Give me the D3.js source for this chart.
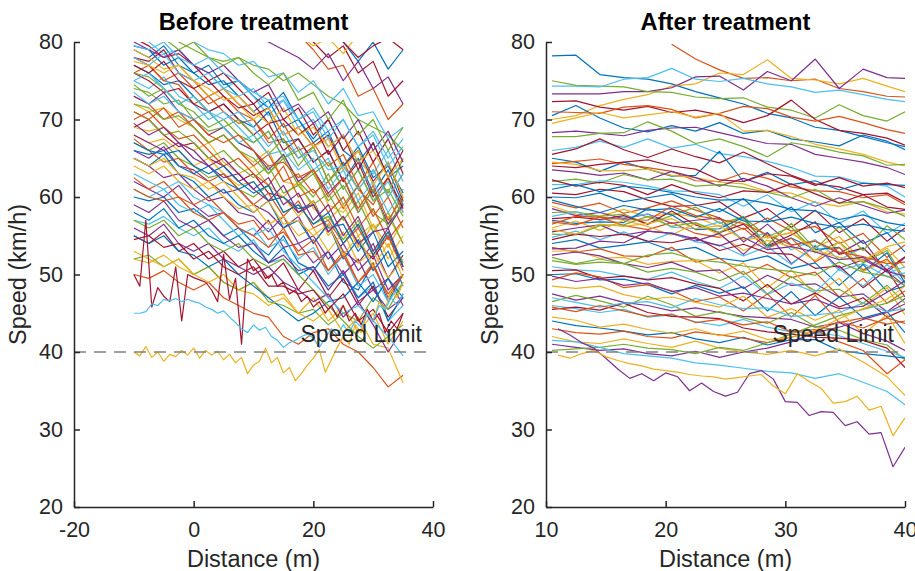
<!DOCTYPE html>
<html>
<head>
 <meta charset="UTF-8">
 <title>Speed profiles before and after treatment</title>
 <script src="https://cdn.jsdelivr.net/npm/d3@7"></script>
 <style>
body {
  margin: 0;
  background: #fff;
}
svg {
  display: block;
  font-family: "Liberation Sans", Arial, Helvetica, sans-serif;
}
.axis path, .axis line {
  stroke: #262626;
  stroke-width: 1.5px;
}
.axis text {
  fill: #262626;
  font-size: 21.5px;
  font-family: "Liberation Sans", Arial, Helvetica, sans-serif;
}
.curve {
  fill: none;
  stroke-width: 1.2px;
  stroke-linejoin: round;
}
.limit {
  stroke: #808080;
  stroke-width: 1.3px;
  stroke-dasharray: 12,8;
}
.label {
  fill: #262626;
  font-size: 23.5px;
}
.limitlabel {
  fill: #262626;
  font-size: 23px;
}
.title {
  fill: #000;
  font-size: 23.7px;
  font-weight: bold;
}
 </style>
</head>

<body>
 <svg width="915" height="571"></svg>

<script type="text/javascript">
// MATLAB default line colour order
var colors = ["#0072BD", "#D95319", "#EDB120", "#7E2F8E", "#77AC30", "#4DBEEE", "#A2142F"];

var yTicks = [20, 30, 40, 50, 60, 70, 80];
var speedLimit = 40;

// ---- before treatment ----
var beforeXTicks = [-20, 0, 20, 40];
var beforeDist = [-10, -7.5, -5, -2.5, 0, 2.5, 5, 7.5, 10, 12.5, 15, 17.5, 20, 22.5, 25, 27.5, 30, 32.5, 35];
var beforeSpeeds = [
  [79,78,79.5,77,76,77,74.5,75,73,71.5,73.5,70,67.5,70,66,64.5,67,62.5,64],
  [76,77,75,74.5,72,73,71,69.5,70,67,67.5,65,66.5,62,64.5,61,59,62.5,58],
  [72,71,71.5,70,69,67,68,66,64.5,66,62,61.5,63.5,59,58,60.5,56,57.5,54],
  [66,65,66.5,64,63.5,62,60.5,61,59,58,56,57.5,54,56.5,53,51.5,54,49.5,52.5],
  [74,73.5,72,72.5,70,68.5,69,67,66,63,65.5,62,60,63,59,61.5,58,56.5,61],
  [81,80,78.5,79,77,76,74,75,73,70.5,72.5,69,70,66.5,68,64.5,63,66,62],
  [69,70,68,66.5,67,65,64,62,63,60.5,60,58,59.5,55.5,57.5,54,52,55,51],
  [60,59.5,60,58,58.5,57,55,56,54,52.5,55,51.5,50.5,53,49,48,51.5,46.5,50],
  [73,72,70,71,69,67,68,66,64,65.5,62,63,60.5,62,58.5,61.5,57.5,60,56],
  [69,68.5,69,67,66,67,64.5,63,64,61.5,60,62,58.5,57,59,55,56.5,53.5,57],
  [65,64,62.5,63,61,59.5,60,58,57.5,55.5,57.5,54,55,52,54,50.5,52.5,48,50],
  [71,70,68,68.5,67,65,66,64,62.5,64,60.5,61.5,59,60.5,57,59.5,55.5,58,54],
  [57,56.5,57.5,56,55,56,54,53,54.5,51.5,52,50,51,48,50.5,47,48.5,44,46],
  [78,77.5,79,76,75,73,74,72,70.5,71.5,68,69,66.5,68,64,66,62,64.5,59.5],
  [77,76,74.5,75,73,71,72,70,69,71,67,67.5,64.5,66,62,65,60.5,63.5,59],
  [70,71,69,67.5,68,66,64,65,63,61.5,64,60,61,58,60,56,58.5,54.5,57],
  [68,67,67.5,66,64,65,63,61.5,62,59.5,60,57.5,59.5,55,57.5,53.5,56.5,52,55],
  [62,61,60,61.5,59,57.5,58,56,55,57,53.5,54,51.5,53,50,52,48,49.5,46],
  [67,66,67,65,64,62.5,63,61,60,61.5,58,59,56.5,57.5,54.5,57,53,55.5,51.5],
  [75,74,75.5,73,72,70,71,69,67,68.5,65,66.5,63.5,65,61,63.5,59.5,62,58],
  [55,54,55.5,53,54,52,53,51,52,49.5,51.5,48,50.5,47,49.5,46,48.5,44.5,47],
  [79.5,79,77,78,76,74.5,75,73,71,72.5,69,70,67,68.5,64,66.5,62.5,64,60.5],
  [67.5,66,64.5,65,63,62,63,61,59,60.5,57.5,59.5,56,57,54,56,52.5,55,50.5],
  [64,63,64,62,61,62,60,58.5,59,56.5,57.5,55,56,53,55.5,51.5,53,49.5,52],
  [73,72,73.5,71,70,68,69,67,66,63.5,65.5,62,63.5,60.5,62.5,58,61,56.5,59],
  [72,71.5,70,70.5,69,67,68,66,65,63,65,61.5,63,59.5,61.5,58,61,56,59.5],
  [61,60,61,59,58,59,57,55,56,53.5,54.5,52,53.5,50,52.5,48.5,50,46.5,49],
  [76,75,73.5,74,72,71,72,70,68,69.5,66,67.5,64.5,66,62,64.5,60,62.5,58.5],
  [65,64,65.5,63,62,60,61,59,58,59.5,56,57,54,56.5,52,54.5,50.5,53,48.5],
  [78,77,75,76,74,72,73,71,70,67.5,69.5,66,67,64,65.5,61.5,64.5,60,63],
  [52,51.5,52.5,51,50,51,49,48,49,47,47.5,45,47,44,46,42.5,45,41,44],
  [69.5,68,69,67,66,64,65,63,61,62.5,59,60.5,57,59,55,57.5,53,56,51],
  [76,75.5,74,72,73,71,69,70,68,65.5,67.5,64,66.5,62,64,61,63.5,60.5,65],
  [73.5,72,73,71,70,71,69,67,68,65.5,66,63.5,65,61,63.5,59.5,62,58,61],
  [80.5,79.5,78,78.5,77,75,76,74,72,73.5,70,71.5,68,70,66,68.5,64.5,67.5,63],
  [58,57,58.5,56,57,55,54,55,53,51.5,53.5,50,51,48.5,50,47,49,44,47.5],
  [62.5,61,62,60,59,60,58,56.5,57,54.5,55.5,53,54.5,50.5,53,49,51,47.5,50],
  [79,78,76.5,77,75,73,74,72,70,71.5,68,69,66.5,67.5,63.5,66,61.5,64.5,60],
  [59,58,59.5,57,56,57,55,53.5,54,51.5,52.5,50.5,51,48,50.5,46.5,48,45.5,47],
  [52,52.5,51,52,50,51,49,48,49,46.5,46,45,45.5,43.5,45,44,47,45.5,49],
  [78,77,78.5,76,75,76,74,73,74,71.5,72.5,70,71,67.5,70,66.5,68.5,65,67.5],
  [90,89,88,87.5,86,85,86,84,83,84,82,81,80,78,79.5,76,77.5,73,75],
  [95,94,93,92,91,90,89.5,88,87,86,85,84,82,83,80,77.5,80,76.5,79],
  [92,91,90,89,88.5,87,86,85,84,83,82,81,79,76.5,77,73,74,70,72],
  [91,90,89,88,87,86,85.5,84,83,82,81.5,81,79.5,80.5,78.5,81,80,83,85],
  [86,85,84,85,83,82,83,81,80.5,80,79,78,76.5,78.5,75,77.5,74,75.5,72],
  [83,82,81.5,80,79,78,77.5,78,77,76.5,75,76,74.5,73,72,70,69,68,66],
  [84,83,82,81.5,80,79,78.5,77,77.5,75.5,76,73.5,75,72,74,70.5,71,67.5,69],
  [97,96,95,94,93,92,91,90,89,88,86,85,83,81,80,78,79.5,80.5,79],
  [55,54,55,53,52.5,51,52,50,48.5,47,45.5,44,45,46.5,47,49,46.5,49.5,47],
  [50,49.5,50.5,49,48,49,47,46,45,44.5,42,41,42.5,43,41,40,38,35.5,37],
  [53,52,51,52,50,49,50,48,47.5,46,47,45,44,45.5,42.5,44.5,41,40.5,36],
  [56,55,56.5,54,53,54,52,51,50,51,49,48,46.5,47.5,44.5,46.5,43.5,40,43],
  [57,56,57,55,56,54,53,54,52,51,52,50,48,46,44,42,40.5,42,43.5],
  [63,62,61,62,60,59,58,56,55,56,53,51,49,47,45,46,44,42,39.5],
  [54.5,55,53.5,54,52,53,51,50,51,48.5,48.5,47.5,48,45.5,47.5,44,45.5,42.5,45],
  [66,65.5,66,64,63,64,62,61,62,59.5,60,58.5,59,56,56.5,53,55.5,51,53],
  [61,60,59.5,60,58,57,58,56,55,53.5,56,52.5,53,50.5,52.5,49,51.5,47,50],
  [65,64,65,63,62.5,61,62,60,58,59.5,56.5,57,55,56.5,52.5,55,51,54,49.5],
  [68,67,66,67,65,64,62.5,63,61,59.5,61.5,58,59,55.5,57.5,54,55.5,56,59],
  [74.5,73,74,72,71,69,70,68,67,68.5,65,66,63,64.5,61,63.5,59.5,61,57.5],
  [75,76,74,72,73,71,70,71,69,66.5,68.5,65,66,63.5,64,61,63.5,60,63],
  [77,76,77.5,75,74,75,73,71.5,72,69.5,70,68,69.5,65.5,68,63.5,67,62.5,66],
  [67,66,65.5,66,64,63,64,62,60.5,61.5,58,59,56.5,58,54,56.5,52.5,55.5,51],
  [71,70,71.5,69,70,68,67,68,66,64,64.5,62.5,63.5,60,62.5,58.5,61.5,57,60],
  [77.5,77,76,77,75,74,72.5,73,71,69.5,71.5,68,69,66.5,68,64.5,66,62.5,65],
  [80,79,78,79,77,76,77,75,73.5,74.5,71,72,69.5,71,67.5,70,66,68.5,64.5],
  [82,81,80.5,79,80,78,77,78,76,74.5,76,72.5,73.5,70,72.5,68,70,66,69],
  [79.5,79,80,78,77,78,76,75,73.5,72.5,73,70,71.5,68.5,70,66.5,68,64,66.5]
];
// the slow vehicles, read at every metre
var beforeDetailDist = [-10,-9,-8,-7,-6,-5,-4,-3,-2,-1,0,1,2,3,4,5,6,7,8,9,10,11,12,13,14,15,16,17,18,19,20,21,22,23,24,25,26,27,28,29,30,31,32,33,34,35];
var beforeDetailSpeeds = [
  [40,39.5,40.7,39.3,40,38.8,39.7,39.4,40.2,39.6,40.5,39.2,40.2,39.6,40.1,39,39.7,38.6,39.3,37.2,38.3,38.8,40.5,38.6,39.3,37.3,38,36.3,37.2,38.3,39.2,40.3,37.4,39,40.6,42,41,43.5,42.5,45,44,46.5,45.5,48,47,49],
  [50,48.5,57,45.8,48.3,47.2,46.5,51,44,50,49.6,49.3,49,48,46.5,52.6,46.8,49.5,41,52,50.5,51,49.5,50,48.5,49,47.5,48,46.5,47.2,45.8,46.5,45,46,44.5,46,44,45,43.5,45.5,44,45,42.5,44,43,45],
  [45,45,45.2,46.2,46,46.8,46.6,46.9,46.5,46.8,46.5,46.3,45.8,45.5,45,45.3,44.5,43.8,43,42.5,43.5,42.8,43.2,42,41.5,40.6,41.2,41.5,42,42.3,41.8,40.6,41.8,43,42.2,43.5,42.5,44,43.2,45,44,46,45.5,47,46,47.5]
];
var beforeDetailColors = [2, 6, 5];

// ---- after treatment ----
var afterXTicks = [10, 20, 30, 40];
var afterDist = [10.5, 12.5, 14.5, 16.5, 18.5, 20.5, 22.5, 24.5, 26.5, 28.5, 30.5, 32.5, 34.5, 36.5, 38.5, 40];
var afterSpeeds = [
  [78.2,78.3,75.8,75.4,75.2,74.6,73.6,72.8,72,70.8,70.2,69,68.6,67.8,67,66.5],
  [null,null,null,null,null,79.7,77.8,76.4,75.3,75.4,75,75.2,74,73.6,73,72.9],
  [70,70.5,71.8,72.6,73.2,74.3,74.6,76,75.8,77.7,75.3,75.1,74.6,75.3,74.3,73.6],
  [73.3,73.3,73.3,73.6,73.6,74.1,75.5,75.6,73.8,76.2,75,77.8,74,76.5,75.4,75.3],
  [75,74.4,74.3,74.2,73.6,73.5,72.9,72.7,72.8,71.6,71.2,70.2,71.9,70.5,69.8,71],
  [74.3,74.3,74.2,75.2,75.4,76.6,75.2,74.9,75.3,74.6,74.2,73.5,73.8,73.2,72.6,72.3],
  [72.3,72.4,71.6,71.2,71.7,70.9,71.2,70.6,69.6,70.5,72.5,70,68.6,68.2,67.6,66.7],
  [70.5,71.8,70.2,68.9,68.4,69.2,68.5,69.6,68.2,68.6,67.5,67.1,66.6,68,67.2,66.1],
  [71,70.9,70.8,71.6,71.8,71.3,70.2,70.8,71.7,71.4,70.3,69.8,70.4,69.6,68.7,68.2],
  [69.5,70.2,70.9,70.2,70.6,71,70.3,70.8,68.5,68.6,67.8,66.8,66.2,65.5,64.5,64],
  [68.3,68.5,68.2,67.9,68.6,68.9,69,68.3,67.6,66.9,66.8,65.5,65,64.5,63.8,62.9],
  [67.8,67.8,68.2,68.3,69.7,68.5,66.9,67.5,66.5,65.2,67,66.5,65.8,65.3,64.1,64.2],
  [66,66.4,67.2,66.4,67.5,66.3,66.8,65.6,65.2,64.6,63.8,62.7,62.6,61.8,61.4,60],
  [65.5,66.2,67.5,66.1,65.1,66.2,65.2,64.4,65.8,64.3,62.8,61.7,61.3,60.3,60.5,59.3],
  [65,64.5,63.3,64.5,63.6,62.7,62.8,65.9,62,63.2,61.6,62.1,60.9,61.8,61.6,61.5],
  [64.3,64.6,64.9,64.2,63.8,63.3,62.1,62,63.1,62.4,61.3,60.8,60.7,59.9,60.3,59],
  [64.5,64.2,63.4,63.4,63.6,62.8,62.5,61.9,61.7,60.7,60.5,59.3,58.8,59.4,58.1,57.8],
  [63.5,63.2,62.8,63.1,62.2,63.3,62.5,61.4,62.4,61.4,59.9,58.8,59.9,58.9,57.9,58.3],
  [62,62.3,61.8,62.9,62.2,62.3,61.4,61.6,61.2,60.6,59.9,61,59.2,59.4,58.5,57.5],
  [61.6,61.6,62.1,61.9,61.4,60.8,60.7,60.3,58.8,60.3,58.1,59.4,56.6,58.2,55.3,56.6],
  [60.5,60.3,61,60.7,59.6,58.8,58.9,59.4,57.3,58.5,56.1,58.3,55.4,57.2,54.3,56],
  [60,59.9,60.5,59.4,59.9,60.4,59,58.1,59.8,56.9,58.7,55.4,56.7,54,55.4,52.9],
  [59.3,58.6,59.2,57.9,58.6,59.5,58.3,57.3,55.8,57.3,55.6,56.2,54,55.3,52.2,53.8],
  [58.8,57.8,57.5,58.4,57.4,57.9,57.4,56.2,57.5,54.7,55.4,53.5,54.9,51.6,53.4,50.9],
  [58.5,57.6,58,57.2,57.8,56.6,57,57.3,54.2,56.5,53.8,54.3,52.7,54.4,50.3,52.2],
  [58,58.1,57.5,57.8,56.5,57.6,58.7,56.6,57.4,54.9,56.1,52.8,54.2,51.5,53.1,49.4],
  [57.5,58.1,57,57.3,57.8,56.1,55.9,56.8,54.5,55.4,53.2,54.5,51.9,53.5,50.2,51],
  [57.2,57.4,57.1,57.6,56.5,58.2,56.4,55.4,56.5,53.7,55.1,56.8,52.6,53.4,50.6,52.3],
  [57,56.6,56.8,56.7,58.5,57.7,55.8,55.9,57.4,53.6,54.7,53.2,53.5,50.4,52.8,48.9],
  [56.5,57.5,57.4,56.3,55.8,56.7,55.3,54.8,56,53.4,54.7,51.6,53.5,50.6,52,49.6],
  [56,56.9,55.7,57,56.2,55.1,56.6,55.1,53.1,54.4,53.6,51.8,54.2,50.4,51.8,49.7],
  [55.5,56,56.4,55.1,55.6,55.3,54.3,55.3,52.6,55.4,51.4,53.7,50.8,51.9,50.4,48.5],
  [55.2,55.1,56.3,56.4,57.5,56.2,56.7,55.4,57.1,53.8,56.6,53.3,56.2,53.1,56.3,54.5],
  [54.8,55.6,54.5,55.5,54.2,55.4,54.2,53.8,52.4,53.6,51.3,53.8,50.5,51.4,49.7,50.2],
  [54.5,55.2,54.9,55.2,54.3,54.1,54.8,53.1,53.9,52.8,52.6,50.8,51.1,48.3,50.6,47.1],
  [54,54.5,53.4,53.8,54.2,53.1,53.5,52.1,51.7,52.4,50.8,51.5,48.6,51.3,47.8,48.5],
  [53.5,52.9,53.3,52.4,52.3,53.5,51.6,52.1,50,51.3,49.6,50.3,47.1,49.5,46.3,47.9],
  [53,53.1,52.1,52.2,51.3,51.7,51.8,50.2,51.5,48.3,50.6,47.4,49.5,45.9,48.3,44.8],
  [52.5,52.9,52.4,51.4,50.9,51.6,50.4,50.6,48.2,49.9,48.6,48.8,47.1,47.5,45.2,46.9],
  [52.2,51.4,52,51.4,50.3,50.8,50.3,49.2,50.4,47.5,49.7,47.9,48.1,46.3,48.6,46.3],
  [51,50.6,50.4,49.8,49.4,50.3,49.1,48.2,49.8,47.4,48.9,47.7,50.7,48.5,51.3,48.8],
  [50.5,50.6,49.5,49.8,49.3,49.6,48.8,48.2,46.6,48.7,46.2,47.6,45.8,47,44.5,45.5],
  [50,50.1,49.3,49.4,48.7,47.5,48.6,47.6,48.4,45.3,47.8,44.7,47.1,44.4,45.2,42.5],
  [49.3,50.2,49.7,48.3,48.7,47.9,46.5,47.1,45.3,47.5,44.5,47.3,43.8,44.4,43.6,44],
  [48.5,48.2,48.5,47.4,46.8,47.1,46.4,45.8,47.2,44.5,45.6,44.1,45.4,42.3,44.8,41.1],
  [47.5,46.7,47.2,46.4,46,45.3,45.7,45.1,44.6,44.4,44.2,43.2,43.8,42.4,41.4,40.2],
  [46.5,47.3,46.6,45.8,47.2,46.1,44.6,45.2,44.4,43.7,45.1,43.3,42.8,41.6,40.9,39],
  [46,45.6,45.1,45.5,44.5,44.8,43.9,43.4,44.2,43.2,42.6,42.5,42.1,41.1,40.1,39.3],
  [45.5,45.8,45.4,46.3,45.1,44.6,44.5,44.3,43.1,42.6,42.3,41.9,41.8,41.5,40.5,38],
  [44,43.4,43.1,42.7,42.2,42.5,41.7,41.2,41.9,40.9,41.6,41.6,40.2,39.8,39.5,39.2],
  [43,42.5,42.3,42.7,42,41.8,42.6,42.2,41.8,41.2,41.9,42.7,43.9,43.1,44.4,43.7],
  [42,41.3,41.1,41.7,41.1,40.6,41.4,40.5,40,39.7,40.2,39.5,40.4,38.7,36.8,34.4],
  [41,40.6,40.2,40.4,39.8,39.5,40.1,39.3,40,40.5,41.3,42.5,43.2,44.2,45.1,46.2],
  [40.2,40.4,40.6,41,40.5,40.3,39.8,40.6,40.2,41.2,42.3,43.5,44.7,45.5,46.3,47.3],
  [41.5,41.3,40.6,39.8,39.5,39.2,38.6,38.3,37.9,37.5,37.3,36.6,37.2,36.1,34.9,33.2],
  [62.2,61.4,61.9,61.5,60.3,61.6,60.5,59.9,60.8,60.6,61.7,60.4,59.2,60.3,58.7,58.4],
  [59.6,58.8,58,58.9,58.3,58.5,57.4,58.5,56.9,56.8,57.4,56.6,56.1,56.5,55.8,55.6],
  [56.8,56.4,57.4,57.1,57,58.8,57.6,57.1,56.6,55.1,53.8,54.3,52.9,52.3,51.4,51.6],
  [55.8,55.2,56.5,56.2,56.6,57.2,55.9,56.3,54.5,54.8,55.4,53.1,52.2,51.8,53.6,54.2],
  [53.3,53.4,54.3,54.1,55.6,55.3,54.6,53.7,54.8,53.2,53.6,52.9,51.9,52.2,50.4,49.8],
  [51.8,51.3,51.6,51.4,52.5,52.8,51.9,51.6,51.1,50.7,50.4,49.9,51.6,50.3,49.8,48.6],
  [47,46.4,45.8,46.3,46.5,45.7,46.9,46.1,45.6,45.7,44.6,44.8,45.1,46.3,45.2,45.6],
  [64,63.8,64.2,64.5,64.8,64,63.6,62.2,62,63,62.7,61.5,62.5,61.4,61.8,61.2],
  [61,61.6,60.7,61.4,61.1,60.6,60,59.6,59.7,59.2,58.4,58.2,57.1,57.7,56.7,56.3],
  [45.8,45.2,46,45.3,44.6,44.9,43.8,44.2,43.5,43.9,42.6,42.9,41.3,40.2,37.2,39],
  [44.5,44.1,43.2,43.6,42.9,42.4,43,42.1,42.7,41.6,41.9,42.8,44.3,45.6,46.8,48.5],
  [49.8,49.1,49.5,48.6,48.9,47.8,48.3,47.2,47.6,46.9,46.2,46.8,45.6,45.9,47.7,49.2]
];
var afterDetailDist = [11,12,13,14,15,16,17,18,19,20,21,22,23,24,25,26,27,28,29,30,31,32,33,34,35,36,37,38,39,40];
var afterDetailSpeeds = [
  [43,42.2,41.2,40.5,39.2,37.8,36.6,37.2,36.3,37.3,36.8,35,36,34.9,34.3,34.8,37.2,37.6,36.5,33.6,33.5,31.8,32.3,32.2,30.5,31,29.4,29.6,25.2,27.7],
  [39.6,39.2,39.8,40.2,39.4,38.9,38.5,38.2,37.8,37.6,37.4,37.1,36.9,36.8,36.5,36.7,36.9,37.1,35.6,34.6,37.2,36.2,35.3,33.4,33.6,34.3,32.5,33,29.2,31.5]
];
var afterDetailColors = [3, 2];

var svg = d3.select("svg"),
  plotTop = 42, plotBottom = 507;

function drawPanel(id, left, right, xDomain, xTicks, title, dist, speeds, detailDist, detailSpeeds, detailColors){
  var g = svg.append("g").attr("id", id),
    xscale = d3.scaleLinear().domain(xDomain).range([left, right]),
    yscale = d3.scaleLinear().domain([20, 80]).range([plotBottom, plotTop]);

  g.append("clipPath")
    .attr("id", "clip_"+id)
    .append("rect")
    .attr("x", left).attr("y", plotTop)
    .attr("width", right-left).attr("height", plotBottom-plotTop);

  var plot = g.append("g").attr("clip-path", "url(#clip_"+id+")");

  function drawLine(xs, values, color){
    plot.append("path")
      .attr("class", "curve")
      .attr("stroke", color)
      .attr("d", d3.line()
        .defined(function(v, i){ return v != null && xs[i] != null; })
        .x(function(v, i){ return xscale(xs[i]); })
        .y(function(v){ return yscale(v); })
        (values)
      );
  }
  speeds.forEach(function(s, i){ drawLine(dist, s, colors[i % colors.length]); });
  detailSpeeds.forEach(function(s, i){ drawLine(detailDist, s, colors[detailColors[i]]); });

  g.append("line")
    .attr("class", "limit")
    .attr("x1", xscale(xDomain[0])).attr("x2", xscale(xDomain[1]))
    .attr("y1", yscale(speedLimit)).attr("y2", yscale(speedLimit));
  g.append("text")
    .attr("class", "limitlabel")
    .attr("text-anchor", "end")
    .attr("x", right-11)
    .attr("y", 342)
    .text("Speed Limit");

  var fmt = function(d){ return String(d); };
  g.append("g")
    .attr("class", "axis")
    .attr("transform", "translate(0,"+plotBottom+")")
    .call(d3.axisBottom(xscale).tickValues(xTicks).tickFormat(fmt)
      .tickSizeInner(-6).tickSizeOuter(0).tickPadding(15));
  g.append("g")
    .attr("class", "axis")
    .attr("transform", "translate("+left+",0)")
    .call(d3.axisLeft(yscale).tickValues(yTicks).tickFormat(fmt)
      .tickSizeInner(-6).tickSizeOuter(0).tickPadding(11));

  g.append("text")
    .attr("class", "title")
    .attr("text-anchor", "middle")
    .attr("x", (left+right)/2)
    .attr("y", 30)
    .text(title);
  g.append("text")
    .attr("class", "label")
    .attr("text-anchor", "middle")
    .attr("x", (left+right)/2)
    .attr("y", 567)
    .text("Distance (m)");
  g.append("text")
    .attr("class", "label")
    .attr("text-anchor", "middle")
    .attr("transform", "translate("+(left-48)+","+((plotTop+plotBottom)/2)+") rotate(-90)")
    .text("Speed (km/h)");
}

drawPanel("before", 74, 433, [-20, 40], beforeXTicks, "Before treatment",
  beforeDist, beforeSpeeds, beforeDetailDist, beforeDetailSpeeds, beforeDetailColors);
drawPanel("after", 546, 905, [10, 40], afterXTicks, "After treatment",
  afterDist, afterSpeeds, afterDetailDist, afterDetailSpeeds, afterDetailColors);
</script>
</body>
</html>
